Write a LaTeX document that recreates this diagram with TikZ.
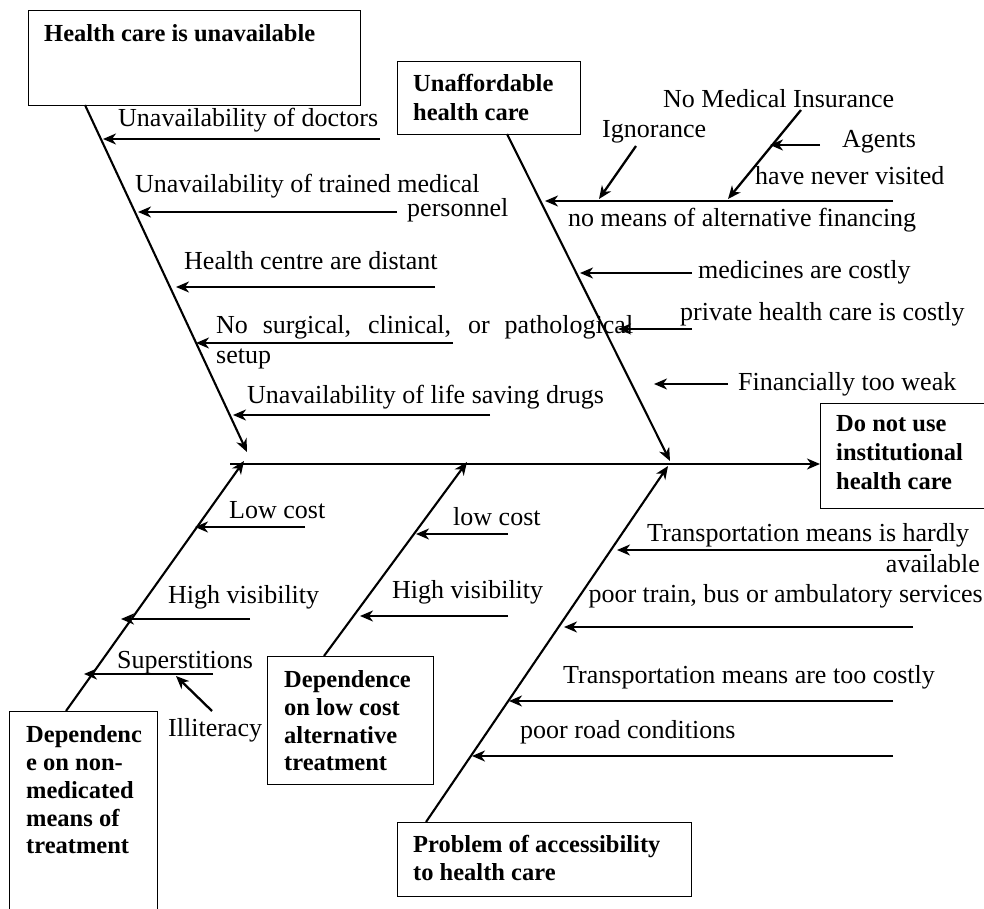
\documentclass[tikz,border=0pt]{standalone}
\usepackage{fontspec}
\setmainfont{Liberation Serif}
\usetikzlibrary{arrows.meta}

\begin{document}
\begin{tikzpicture}[x=1pt,y=-1pt,
  bone/.style={line width=2.1pt,-{Stealth[length=13pt,width=11pt,inset=4pt]}},
  twig/.style={line width=2.3pt,-{Stealth[length=13pt,width=11pt,inset=4pt]}},
  frame/.style={draw,line width=1.2pt,inner sep=0pt,anchor=north west},
  lbl/.style={inner sep=0pt,anchor=base west,font=\fontsize{26}{30}\selectfont},
  hdr/.style={inner sep=0pt,anchor=base west,font=\bfseries\fontsize{24.5}{28}\selectfont}]
\useasboundingbox (0,0) rectangle (984,909);

% cause boxes and the effect box
\node[frame,minimum width=332pt,minimum height=95pt]  (boxA) at (28,10)  {};
\node[frame,minimum width=183pt,minimum height=73pt]  (boxB) at (397,61) {};
\node[frame,minimum width=172pt,minimum height=105pt] (boxC) at (820,403) {};
\node[frame,minimum width=166pt,minimum height=128pt] (boxD) at (267,656) {};
\node[frame,minimum width=148pt,minimum height=215pt] (boxE) at (9,711)  {};
\node[frame,minimum width=294pt,minimum height=74pt]  (boxF) at (397,822) {};

% box titles
\node[hdr] (tA)  at (44,42)  {Health care is unavailable};
\node[hdr] (tB1) at (413,92) {Unaffordable};
\node[hdr] (tB2) at (413,121) {health care};
\node[hdr] (tC1) at (836,431) {Do not use};
\node[hdr] (tC2) at (836,460) {institutional};
\node[hdr] (tC3) at (836,489) {health care};
\node[hdr] (tD1) at (284,687) {Dependence};
\node[hdr] (tD2) at (284,715) {on low cost};
\node[hdr] (tD3) at (284,743) {alternative};
\node[hdr] (tD4) at (284,770) {treatment};
\node[hdr] (tE1) at (26,742) {Dependenc};
\node[hdr] (tE2) at (26,770) {e on non-};
\node[hdr] (tE3) at (26,798) {medicated};
\node[hdr] (tE4) at (26,826) {means of};
\node[hdr] (tE5) at (26,853) {treatment};
\node[hdr] (tF1) at (413,852) {Problem of accessibility};
\node[hdr] (tF2) at (413,880) {to health care};

% spine
\coordinate (spL) at (230,464);
\draw[bone] (spL) -- (spL -| boxC.west);

% bone end points
\coordinate (a0) at (85,105);   \coordinate (a1) at (247,452);
\coordinate (b0) at (507,134);  \coordinate (b1) at (670,461);
\coordinate (d0) at (324,656);  \coordinate (d1) at (467,462);
\coordinate (e0) at (66,711);   \coordinate (e1) at (244,461);
\coordinate (f0) at (426,822);  \coordinate (f1) at (668,466);
\draw[bone] (a0) -- (a1);
\draw[bone] (b0) -- (b1);
\draw[bone] (d0) -- (d1);
\draw[bone] (e0) -- (e1);
\draw[bone] (f0) -- (f1);

% --- Health care is unavailable
\coordinate (A1s) at (380,139); \coordinate (A1t) at (103,139);
\coordinate (A2s) at (397,212); \coordinate (A2t) at (138,212);
\coordinate (A3s) at (435,287); \coordinate (A3t) at (176,287);
\coordinate (A4s) at (453,343); \coordinate (A4t) at (196,343);
\coordinate (A5s) at (490,415); \coordinate (A5t) at (233,415);
\draw[twig] (A1s) -- (A1t);
\draw[twig] (A2s) -- (A2t);
\draw[twig] (A3s) -- (A3t);
\draw[twig] (A4s) -- (A4t);
\draw[twig] (A5s) -- (A5t);
\node[lbl] (lA1)  at (118,127) {Unavailability of doctors};
\node[lbl] (lA2a) at (135,193) {Unavailability of trained medical};
\node[lbl] (lA2b) at (407,217) {personnel};
\node[lbl] (lA3)  at (184,269) {Health centre are distant};
\node[lbl] (lA4a) at (216,333) {\makebox[417pt][s]{No surgical, clinical, or pathological}};
\node[lbl] (lA4b) at (216,363) {setup};
\node[lbl] (lA5)  at (247,403) {Unavailability of life saving drugs};

% --- Unaffordable health care
\coordinate (B1s) at (893,201); \coordinate (B1t) at (545,201);
\coordinate (Igs) at (636,146); \coordinate (Igt) at (599,199);
\coordinate (Ins) at (801,110); \coordinate (Int) at (728,199);
\coordinate (Ags) at (820,145); \coordinate (Agt) at (770,145);
\coordinate (B2s) at (692,273); \coordinate (B2t) at (580,273);
\coordinate (B3s) at (692,329); \coordinate (B3t) at (618,329);
\coordinate (B4s) at (728,384); \coordinate (B4t) at (654,384);
\draw[twig] (B1s) -- (B1t);
\draw[twig] (Igs) -- (Igt);
\draw[twig] (Ins) -- (Int);
\draw[twig] (Ags) -- (Agt);
\draw[twig] (B2s) -- (B2t);
\draw[twig] (B3s) -- (B3t);
\draw[twig] (B4s) -- (B4t);
\node[lbl] (lIn) at (663,108) {No Medical Insurance};
\node[lbl] (lIg) at (602,138) {Ignorance};
\node[lbl] (lAg) at (842,148) {Agents};
\node[lbl] (lHv) at (755,185) {have never visited};
\node[lbl] (lB1) at (568,227) {no means of alternative financing};
\node[lbl] (lB2) at (698,278) {medicines are costly};
\node[lbl] (lB3) at (680,320) {private health care is costly};
\node[lbl] (lB4) at (738,390) {Financially too weak};

% --- Dependence on non-medicated means of treatment
\coordinate (E1s) at (305,527); \coordinate (E1t) at (195,527);
\coordinate (E2s) at (250,619); \coordinate (E2t) at (121,619);
\coordinate (E3s) at (213,674); \coordinate (E3t) at (84,674);
\coordinate (Ils) at (212,711); \coordinate (Ilt) at (176,676);
\draw[twig] (E1s) -- (E1t);
\draw[twig] (E2s) -- (E2t);
\draw[twig] (E3s) -- (E3t);
\draw[twig] (Ils) -- (Ilt);
\node[lbl] (lE1) at (229,518) {Low cost};
\node[lbl] (lE2) at (168,603) {High visibility};
\node[lbl] (lE3) at (117,668) {Superstitions};
\node[lbl] (lIl) at (168,736) {Illiteracy};

% --- Dependence on low cost alternative treatment
\coordinate (D1s) at (508,534); \coordinate (D1t) at (416,534);
\coordinate (D2s) at (508,616); \coordinate (D2t) at (360,616);
\draw[twig] (D1s) -- (D1t);
\draw[twig] (D2s) -- (D2t);
\node[lbl] (lD1) at (453,525) {low cost};
\node[lbl] (lD2) at (392,598) {High visibility};

% --- Problem of accessibility to health care
\coordinate (F1s) at (931,550); \coordinate (F1t) at (617,550);
\coordinate (F2s) at (913,627); \coordinate (F2t) at (564,627);
\coordinate (F3s) at (893,701); \coordinate (F3t) at (509,701);
\coordinate (F4s) at (893,756); \coordinate (F4t) at (472,756);
\draw[twig] (F1s) -- (F1t);
\draw[twig] (F2s) -- (F2t);
\draw[twig] (F3s) -- (F3t);
\draw[twig] (F4s) -- (F4t);
\node[lbl] (lF1a) at (647,541) {Transportation means is hardly};
\node[lbl,anchor=base east] (lF1b) at (980,572) {available};
\node[lbl,anchor=base east] (lF2) at (983,602) {poor train, bus or ambulatory services};
\node[lbl] (lF3) at (563,683) {Transportation means are too costly};
\node[lbl] (lF4) at (520,738) {poor road conditions};
\end{tikzpicture}
\end{document}
